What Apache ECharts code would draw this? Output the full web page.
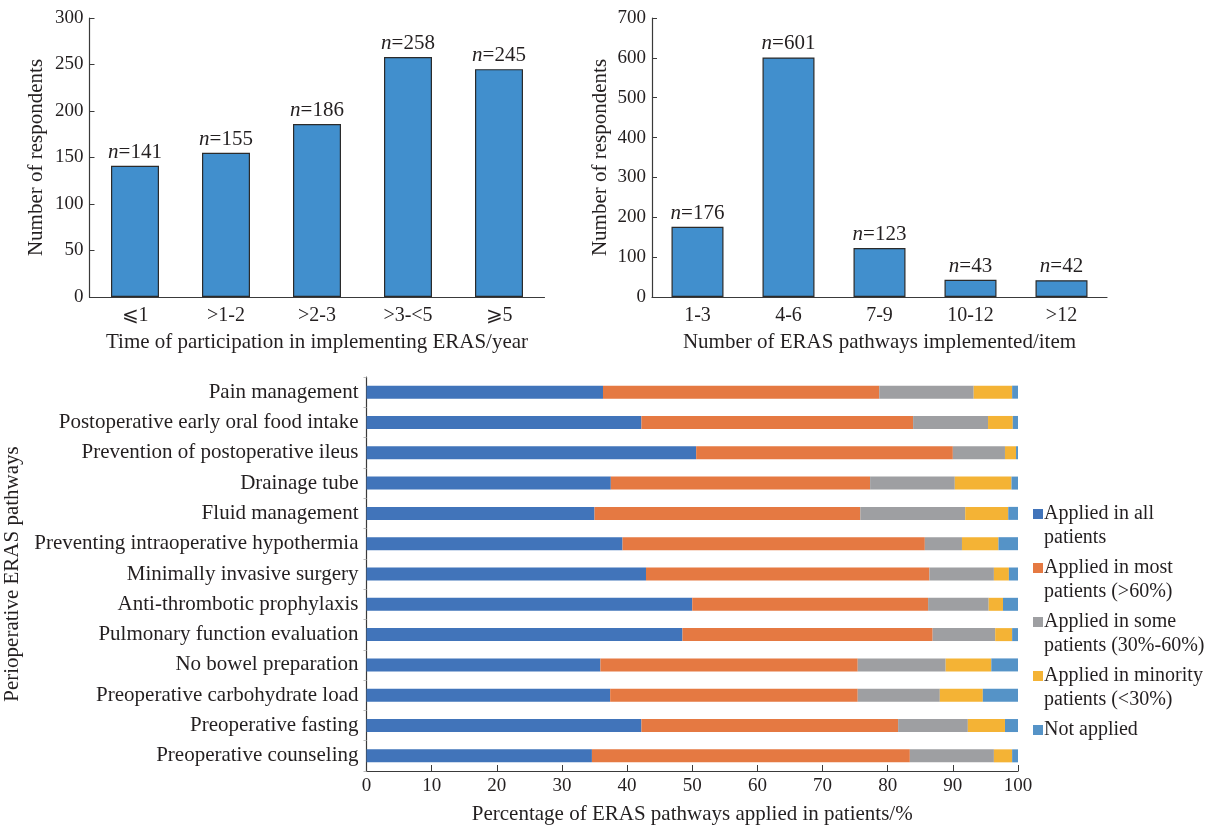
<!DOCTYPE html>
<html><head><meta charset="utf-8">
<script src="https://cdn.jsdelivr.net/npm/echarts@6/dist/echarts.min.js"></script>
<style>html,body{margin:0;padding:0;background:#fff}#c{width:1222px;height:827px}</style>
</head><body><div id="c"></div>
<script>
// ---- data ----
const yearCats = ['⩽1', '>1-2', '>2-3', '>3-<5', '⩾5'];
const yearVals = [141, 155, 186, 258, 245];
const yearTicks = [0, 50, 100, 150, 200, 250, 300];

const countCats = ['1-3', '4-6', '7-9', '10-12', '>12'];
const countVals = [176, 601, 123, 43, 42];
const countTicks = [0, 100, 200, 300, 400, 500, 600, 700];

const pathways = [
  'Pain management',
  'Postoperative early oral food intake',
  'Prevention of postoperative ileus',
  'Drainage tube',
  'Fluid management',
  'Preventing intraoperative hypothermia',
  'Minimally invasive surgery',
  'Anti-thrombotic prophylaxis',
  'Pulmonary function evaluation',
  'No bowel preparation',
  'Preoperative carbohydrate load',
  'Preoperative fasting',
  'Preoperative counseling'
];
const appliedAll      = [36.3, 42.2, 50.6, 37.5, 35.0, 39.3, 42.9, 50.0, 48.5, 35.9, 37.4, 42.2, 34.6];
const appliedMost     = [42.4, 41.7, 39.4, 39.8, 40.8, 46.4, 43.5, 36.2, 38.4, 39.5, 38.0, 39.4, 48.8];
const appliedSome     = [14.5, 11.5,  8.0, 13.0, 16.1,  5.7,  9.9,  9.3,  9.6, 13.5, 12.6, 10.7, 12.9];
const appliedMinority = [ 5.9,  3.8,  1.7,  8.7,  6.6,  5.6,  2.3,  2.2,  2.6,  7.0,  6.6,  5.7,  2.8];
const notApplied      = [ 0.9,  0.8,  0.3,  1.0,  1.5,  3.0,  1.4,  2.3,  0.9,  4.1,  5.4,  2.0,  0.9];
const pctTicks = [0, 10, 20, 30, 40, 50, 60, 70, 80, 90, 100];

const seriesNames = [
  'Applied in all\npatients',
  'Applied in most\npatients (>60%)',
  'Applied in some\npatients (30%-60%)',
  'Applied in minority\npatients (<30%)',
  'Not applied'
];
// ---- styles ----
const FONT = '"Liberation Serif", "DejaVu Serif", serif';
const TXT = '#231f20';
const colors = ['#4174ba', '#e57942', '#9e9fa2', '#f4b335', '#5593c7'];
const topBar = '#418fcd';

const axisLine = {show: true, lineStyle: {color: '#3a3a3a', width: 1.2}};
const tickLab = {color: TXT, fontFamily: FONT, fontSize: 19};
const catLab = {color: TXT, fontFamily: FONT, fontSize: 20};
const pathLab = {color: TXT, fontFamily: FONT, fontSize: 21};
const nameStyle = {color: TXT, fontFamily: FONT, fontSize: 21};

const barLabel = {
  show: true, position: 'top', distance: 3,
  formatter: p => '{i|n}=' + p.value,
  color: TXT, fontFamily: FONT, fontSize: 21,
  rich: {i: {fontStyle: 'italic', fontFamily: FONT, fontSize: 21, color: TXT}}
};

// legend marker: square aligned with the first text line
const legendIcon = 'path://M0,7h10v10h-10z M0,0h.01v.01h-.01z M0,48h.01v.01h-.01z';

const chart = echarts.init(document.getElementById('c'), null, {renderer: 'canvas'});
const stackData = [appliedAll, appliedMost, appliedSome, appliedMinority, notApplied];

chart.setOption({
  animation: false,
  backgroundColor: '#fff',
  textStyle: {fontFamily: FONT},
  grid: [
    {left: 89.5, top: 18, width: 455, height: 279, containLabel: false, outerBoundsMode: 'none'},
    {left: 652, top: 18, width: 455, height: 279, containLabel: false, outerBoundsMode: 'none'},
    {left: 366.5, top: 377, width: 651.5, height: 394, containLabel: false, outerBoundsMode: 'none'}
  ],
  xAxis: [
    {gridIndex: 0, type: 'category', data: yearCats, axisLine: axisLine, axisTick: {show: false},
     axisLabel: Object.assign({margin: 9}, catLab),
     name: 'Time of participation in implementing ERAS/year', nameLocation: 'middle', nameGap: 35, nameTextStyle: nameStyle},
    {gridIndex: 1, type: 'category', data: countCats, axisLine: axisLine, axisTick: {show: false},
     axisLabel: Object.assign({margin: 9}, catLab),
     name: 'Number of ERAS pathways implemented/item', nameLocation: 'middle', nameGap: 35, nameTextStyle: nameStyle},
    {gridIndex: 2, type: 'value', min: pctTicks[0], max: pctTicks[pctTicks.length - 1], interval: 10,
     axisLine: axisLine, axisTick: {show: true, inside: true, length: 6, lineStyle: {color: '#3a3a3a'}},
     splitLine: {show: false}, axisLabel: Object.assign({margin: 6}, tickLab),
     name: 'Percentage of ERAS pathways applied in patients/%', nameLocation: 'middle', nameGap: 33, nameTextStyle: nameStyle}
  ],
  yAxis: [
    {gridIndex: 0, type: 'value', min: yearTicks[0], max: yearTicks[yearTicks.length - 1], interval: 50,
     axisLine: axisLine, axisTick: {show: true, inside: true, length: 5, lineStyle: {color: '#3a3a3a'}}, splitLine: {show: false},
     axisLabel: Object.assign({margin: 6}, tickLab),
     name: 'Number of respondents', nameLocation: 'middle', nameGap: 43, nameTextStyle: nameStyle},
    {gridIndex: 1, type: 'value', min: countTicks[0], max: countTicks[countTicks.length - 1], interval: 100,
     axisLine: axisLine, axisTick: {show: true, inside: true, length: 5, lineStyle: {color: '#3a3a3a'}}, splitLine: {show: false},
     axisLabel: Object.assign({margin: 6}, tickLab),
     name: 'Number of respondents', nameLocation: 'middle', nameGap: 41, nameTextStyle: nameStyle},
    {gridIndex: 2, type: 'category', data: pathways, inverse: true,
     axisLine: axisLine, axisTick: {show: true, length: 3, lineStyle: {color: '#bbb'}},
     axisLabel: Object.assign({margin: 8}, pathLab),
     name: 'Perioperative ERAS pathways', nameLocation: 'middle', nameGap: 340, nameTextStyle: nameStyle}
  ],
  legend: {
    orient: 'vertical', left: 1028, top: 497, itemWidth: 10, itemHeight: 48, itemGap: 6,
    icon: legendIcon, selectedMode: false,
    formatter: name => name.indexOf('\n') >= 0 ? name : name + '\n ',
    textStyle: {color: TXT, fontFamily: FONT, fontSize: 20, lineHeight: 24, padding: [0, 0, 0, -4]},
    data: seriesNames
  },
  series: [
    {type: 'bar', xAxisIndex: 0, yAxisIndex: 0, data: yearVals, barWidth: 48,
     itemStyle: {color: topBar, borderColor: '#2b2b2b', borderWidth: 1.2}, label: barLabel},
    {type: 'bar', xAxisIndex: 1, yAxisIndex: 1, data: countVals, barWidth: 52,
     itemStyle: {color: topBar, borderColor: '#2b2b2b', borderWidth: 1.2}, label: barLabel}
  ].concat(seriesNames.map((nm, i) => ({
    type: 'bar', name: nm, xAxisIndex: 2, yAxisIndex: 2, stack: 'pct', data: stackData[i],
    barWidth: 13, itemStyle: {color: colors[i]}
  })))
});
</script></body></html>
